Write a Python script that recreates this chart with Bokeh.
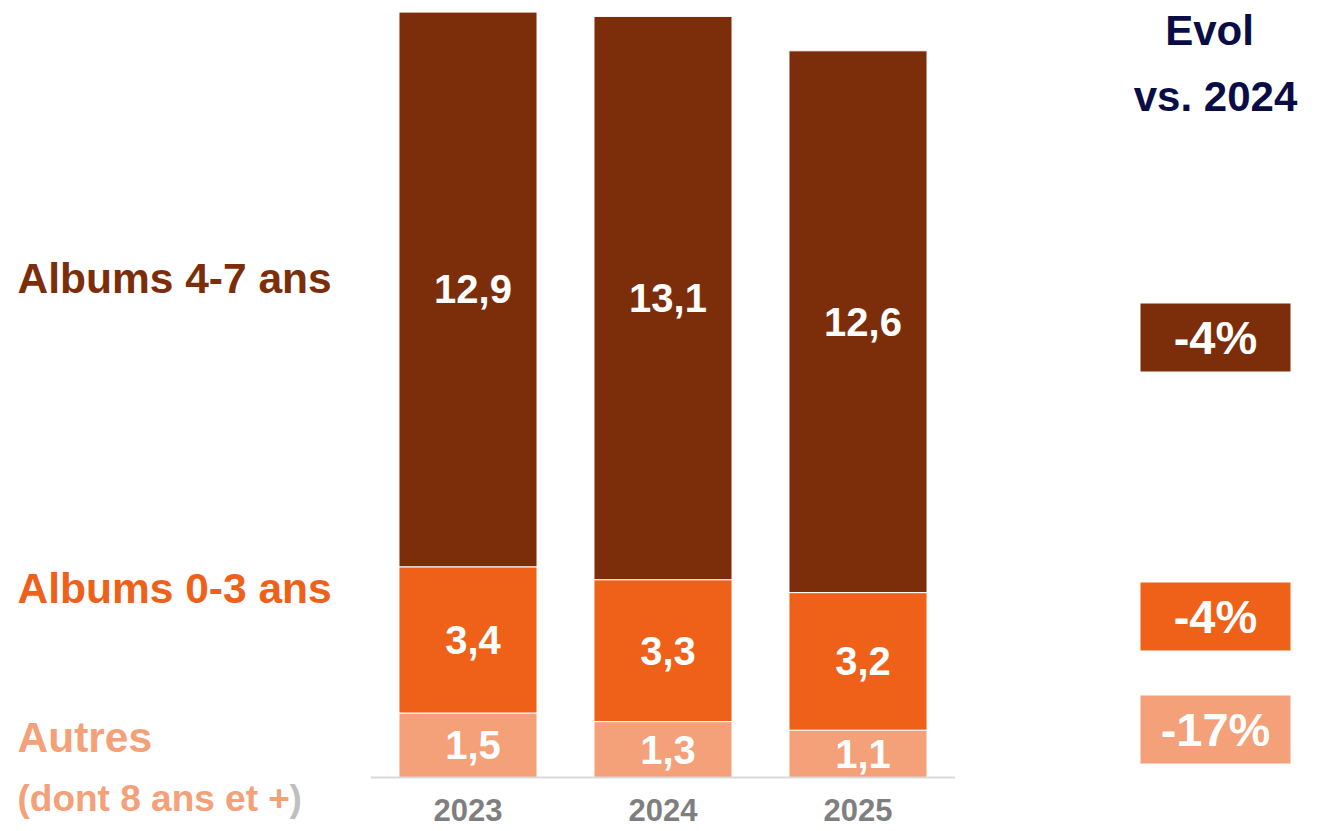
from bokeh.plotting import figure
from bokeh.models import Range1d, FactorRange, ColumnDataSource
from bokeh.layouts import row
from bokeh.core.properties import value
from bokeh.embed import file_html
from bokeh.resources import INLINE

# ---- data ----
years = ["2023", "2024", "2025"]
autres = [1.5, 1.3, 1.1]
albums_03 = [3.4, 3.3, 3.2]
albums_47 = [12.9, 13.1, 12.6]
series_names = ["Albums 4-7 ans", "Albums 0-3 ans", "Autres"]
autres_note = "(dont 8 ans et +"
evol_labels = ["-4%", "-4%", "-17%"]  # 4-7, 0-3, autres
evol_title = ["Evol", "vs. 2024"]

# ---- styles ----
FONT = value("Liberation Sans")
C_DARK = "#7C2E0B"
C_MID = "#EF6119"
C_LIGHT = "#F4A078"
C_NAVY = "#0A0C45"
C_GRAY = "#7F7F7F"

H = 831
LEFT_W, MID_W, RIGHT_W = 370, 585, 360
BASE_Y = 777          # pixel row of the baseline
PX_PER_UNIT = 43


def blank(w):
    f = figure(width=w, height=H, x_range=Range1d(0, w), y_range=Range1d(H, 0),
               toolbar_location=None, output_backend="svg", min_border=0)
    f.axis.visible = False
    f.grid.visible = False
    f.outline_line_color = None
    return f


# ---- left labels ----
left = blank(LEFT_W)
lab_src = ColumnDataSource(dict(
    x=[17, 17, 17], y=[278, 588, 737],
    t=series_names, c=[C_DARK, C_MID, C_LIGHT]))
left.text(x="x", y="y", text="t", text_color="c", source=lab_src,
          text_font=FONT, text_font_style="bold", text_font_size="42.5px",
          text_baseline="middle", text_align="left")
left.text(x=[17], y=[798], text=[autres_note], text_color=C_LIGHT,
          text_font=FONT, text_font_style="bold", text_font_size="37px",
          text_baseline="middle", text_align="left")
left.text(x=[289], y=[798], text=[")"], text_color="#BFBFBF",
          text_font=FONT, text_font_style="bold", text_font_size="37px",
          text_baseline="middle", text_align="left")

# ---- bars ----
src = ColumnDataSource(dict(years=years, autres=autres, a03=albums_03, a47=albums_47))
mid = figure(width=MID_W, height=H, x_range=FactorRange(*years),
             y_range=Range1d(-(H - BASE_Y) / PX_PER_UNIT, BASE_Y / PX_PER_UNIT),
             toolbar_location=None, output_backend="svg", min_border=0)
mid.vbar_stack(["autres", "a03", "a47"], x="years", width=0.708, source=src,
               color=[C_LIGHT, C_MID, C_DARK], line_color="white", line_width=1)

# value labels at segment middles
lx, ly, lt = [], [], []
for i, yr in enumerate(years):
    base = 0.0
    for v in (autres[i], albums_03[i], albums_47[i]):
        lx.append(yr)
        ly.append(base + v / 2)
        lt.append(f"{v:.1f}".replace(".", ","))
        base += v
mid.text(x=lx, y=ly, text=lt, text_color="white", text_font=FONT,
         text_font_style="bold", text_font_size="40px", text_align="center",
         text_baseline="middle", x_offset=5)

mid.yaxis.visible = False
mid.grid.visible = False
mid.outline_line_color = None
xa = mid.xaxis[0]
xa.fixed_location = 0
xa.axis_line_color = "#D9D9D9"
xa.axis_line_width = 2
xa.major_tick_line_color = None
xa.minor_tick_line_color = None
xa.major_label_text_font = "Liberation Sans"
xa.major_label_text_font_style = "bold"
xa.major_label_text_font_size = "31px"
xa.major_label_text_color = C_GRAY
xa.major_label_standoff = 15

# ---- right evol boxes ----
right = blank(RIGHT_W)
right.text(x=[254, 260], y=[30, 96], text=evol_title, text_color=C_NAVY,
           text_font=FONT, text_font_style="bold", text_font_size="42px",
           text_align="center", text_baseline="middle")
box_src = ColumnDataSource(dict(x=[260, 260, 260], y=[337, 616, 729],
                                t=evol_labels, c=[C_DARK, C_MID, C_LIGHT]))
right.rect(x="x", y="y", width=150, height=68, fill_color="c", line_color=None,
           source=box_src)
right.text(x="x", y="y", text="t", text_color="white", source=box_src,
           text_font=FONT, text_font_style="bold", text_font_size="47px",
           text_align="center", text_baseline="middle")

layout = row(left, mid, right)
open("out.html", "w").write(file_html(layout, INLINE))
